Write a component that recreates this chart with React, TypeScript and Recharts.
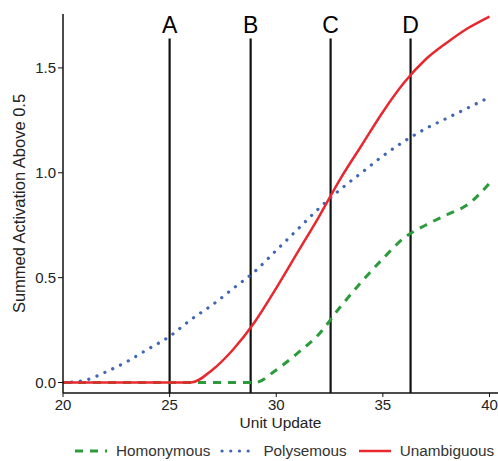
import { LineChart, Line, XAxis, YAxis, ReferenceLine, Legend } from "recharts";

const units = [20, 21, 22, 23, 24, 25, 26, 27, 28, 29, 30, 31, 32, 33, 34, 35, 36, 37, 38, 39, 40];
const homonymous = [0, 0, 0, 0, 0, 0, 0, 0, 0, 0, 0.06, 0.14, 0.23, 0.36, 0.48, 0.59, 0.69, 0.75, 0.8, 0.85, 0.95];
const polysemous = [0, 0.01, 0.05, 0.1, 0.16, 0.22, 0.3, 0.37, 0.45, 0.53, 0.63, 0.73, 0.83, 0.92, 1.0, 1.08, 1.15, 1.21, 1.26, 1.31, 1.36];
const unambiguous = [0, 0, 0, 0, 0, 0, 0, 0.06, 0.16, 0.29, 0.45, 0.62, 0.79, 0.97, 1.13, 1.29, 1.43, 1.54, 1.62, 1.69, 1.745];

const markerNames = ["A", "B", "C", "D"];
const markerUnits = [25, 28.8, 32.55, 36.3];

const xTicks = [20, 25, 30, 35, 40];
const yTicks = [0, 0.5, 1, 1.5];

const data = units.map((u, i) => ({
  unit: u,
  homonymous: homonymous[i],
  polysemous: polysemous[i],
  unambiguous: unambiguous[i],
}));

const FONT = '"Liberation Sans", Arial, sans-serif';
const INK = "#111";

function LegendContent({ payload }: any) {
  return (
    <div
      style={{
        display: "flex",
        alignItems: "center",
        height: 24,
        paddingLeft: 73,
        paddingTop: 3,
        boxSizing: "border-box",
        fontSize: 15.3,
        color: "#333",
      }}
    >
      {(payload || []).map((entry: any) => {
        const p = entry.payload || {};
        return (
          <div key={entry.value} style={{ display: "flex", alignItems: "center", marginRight: 10 }}>
            <svg width={36} height={10} style={{ marginRight: 7 }}>
              <line
                x1={2}
                y1={5}
                x2={34}
                y2={5}
                stroke={entry.color}
                strokeWidth={p.strokeWidth || 3}
                strokeDasharray={p.strokeDasharray}
                strokeLinecap={p.strokeLinecap || "butt"}
              />
            </svg>
            <span>{entry.value}</span>
          </div>
        );
      })}
    </div>
  );
}

export default function App() {
  return (
    <div style={{ position: "absolute", left: 0, top: 0, fontFamily: FONT, background: "#fff" }}>
      <LineChart width={498} height={461} data={data} margin={{ top: 14, right: 0, bottom: 0, left: 0 }}>
        <XAxis
          dataKey="unit"
          type="number"
          domain={[20, 40.4]}
          ticks={xTicks}
          allowDataOverflow
          height={44}
          tickSize={4}
          tick={{ fill: "#222", fontSize: 15 }}
          axisLine={{ stroke: INK, strokeWidth: 1.5 }}
          tickLine={{ stroke: INK }}
          label={{ value: "Unit Update", position: "insideBottom", offset: 9, fill: "#222", fontSize: 15.5 }}
        />
        <YAxis
          type="number"
          domain={[-0.05, 1.757]}
          ticks={yTicks}
          allowDataOverflow
          width={63}
          tickSize={5}
          tickFormatter={(v: number) => v.toFixed(1)}
          tick={{ fill: "#222", fontSize: 15 }}
          axisLine={{ stroke: INK, strokeWidth: 1.5 }}
          tickLine={{ stroke: INK }}
          label={{
            value: "Summed Activation Above 0.5",
            angle: -90,
            position: "insideLeft",
            offset: 19,
            fill: "#222",
            fontSize: 16.5,
            style: { textAnchor: "middle" },
          }}
        />
        {markerUnits.map((m, i) => (
          <ReferenceLine
            key={markerNames[i]}
            segment={[
              { x: m, y: -0.05 },
              { x: m, y: 1.64 },
            ]}
            stroke={INK}
            strokeWidth={2.2}
            label={{ value: markerNames[i], position: "top", offset: 6, fill: "#000", fontSize: 23 }}
          />
        ))}
        <Line
          dataKey="homonymous"
          name="Homonymous"
          type="monotone"
          stroke="#2b9b3b"
          strokeWidth={3}
          strokeDasharray="8 7"
          dot={false}
          isAnimationActive={false}
        />
        <Line
          dataKey="polysemous"
          name="Polysemous"
          type="monotone"
          stroke="#3f67b5"
          strokeWidth={3.2}
          strokeDasharray="0.1 8.6"
          strokeLinecap="round"
          dot={false}
          isAnimationActive={false}
        />
        <Line
          dataKey="unambiguous"
          name="Unambiguous"
          type="monotone"
          stroke="#e8282e"
          strokeWidth={2.5}
          dot={false}
          isAnimationActive={false}
        />
        <Legend verticalAlign="bottom" height={24} content={<LegendContent />} />
      </LineChart>
    </div>
  );
}
